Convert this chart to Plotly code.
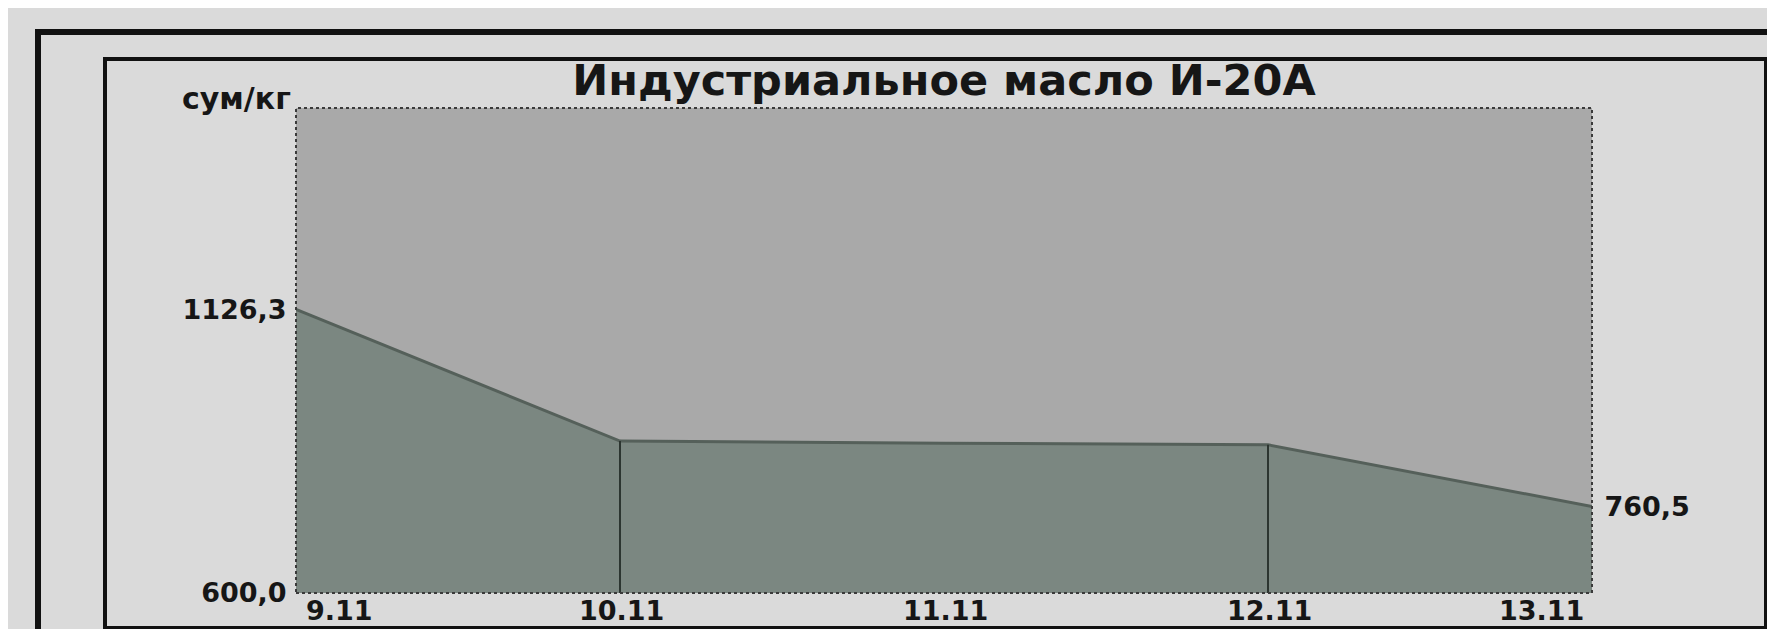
import plotly.graph_objects as go

# ---- data ----
dates = ["9.11", "10.11", "11.11", "12.11", "13.11"]
prices = [1126.3, 882.0, 878.0, 875.0, 760.5]
separator_dates = ["10.11", "12.11"]
y_min = 600.0
y_max = 1500.0
title_text = "Индустриальное масло И-20А"
unit_text = "сум/кг"

# ---- layout constants (pixels) ----
W, H = 1775, 629
PL, PR, PT, PB = 288, 1584, 100, 585
pw, ph = PR - PL, PB - PT


def px(x):
    return (x - PL) / pw


def py(y):
    return (PB - y) / ph


FONT = "DejaVu Sans"
TXT = "#161616"
TICK_SIZE = 27

fig = go.Figure()

# area
fig.add_trace(go.Scatter(
    x=dates, y=prices, mode="lines", fill="tozeroy",
    fillcolor="#7b8781", line=dict(color="#55605a", width=3),
    hoverinfo="skip", showlegend=False,
))

# vertical separators inside the area
for d in separator_dates:
    v = prices[dates.index(d)]
    fig.add_trace(go.Scatter(
        x=[d, d], y=[y_min, v], mode="lines",
        line=dict(color="#2c3530", width=2),
        hoverinfo="skip", showlegend=False,
    ))

# right-axis helper trace (invisible) so yaxis2 renders
fig.add_trace(go.Scatter(
    x=[dates[-1]], y=[prices[-1]], yaxis="y2", mode="markers",
    marker=dict(opacity=0), hoverinfo="skip", showlegend=False,
))


def fmt(v):
    return f"{v:.1f}".replace(".", ",")


fig.update_layout(
    width=W, height=H,
    margin=dict(l=PL, r=W - PR, t=PT, b=H - PB),
    paper_bgcolor="#dadada",
    plot_bgcolor="#a9a9a9",
    showlegend=False,
    title=dict(
        text=title_text, x=px((PL + PR) / 2), xref="paper",
        y=1 - 72 / H, yref="container", xanchor="center", yanchor="middle",
        font=dict(family=FONT, size=43, color=TXT, weight="bold"),
    ),
    xaxis=dict(
        type="category", categoryorder="array", categoryarray=dates,
        range=[0, len(dates) - 1], showgrid=False, zeroline=False,
        showticklabels=False, showline=False, ticks="",
    ),
    yaxis=dict(
        range=[y_min, y_max], showgrid=False, zeroline=False, showline=False,
        tickvals=[y_min, prices[0]], ticktext=[fmt(y_min), fmt(prices[0])],
        ticks="outside", ticklen=3, tickcolor="rgba(0,0,0,0)",
        tickfont=dict(family=FONT, size=TICK_SIZE, color=TXT, weight="bold"),
    ),
    yaxis2=dict(
        range=[y_min, y_max], overlaying="y", side="right", showgrid=False,
        zeroline=False, showline=False,
        tickvals=[prices[-1]], ticktext=[fmt(prices[-1])],
        ticks="outside", ticklen=6, tickcolor="rgba(0,0,0,0)",
        tickfont=dict(family=FONT, size=TICK_SIZE, color=TXT, weight="bold"),
    ),
)

# x tick labels as annotations (first left-aligned, last right-aligned);
# positioned by category index
for i, d in enumerate(dates):
    if i == 0:
        anchor, shift = "left", 8
    elif i == len(dates) - 1:
        anchor, shift = "right", -6
    else:
        anchor, shift = "center", 1
    fig.add_annotation(
        x=i, xref="x", y=py(602), yref="paper", text=d, showarrow=False,
        xanchor=anchor, yanchor="middle", xshift=shift,
        font=dict(family=FONT, size=TICK_SIZE, color=TXT, weight="bold"),
    )

# unit label
fig.add_annotation(
    x=px(285), xref="paper", y=py(90), yref="paper", text=unit_text,
    showarrow=False, xanchor="right", yanchor="middle",
    font=dict(family=FONT, size=30, color=TXT, weight="bold"),
)

# plot border (dotted)
fig.add_shape(type="rect", xref="paper", yref="paper", x0=0, x1=1, y0=0, y1=1,
              line=dict(color="#3a3a3a", width=2, dash="dot"), layer="above")

# inner frame
fig.add_shape(type="rect", xref="paper", yref="paper",
              x0=px(97), x1=px(1758), y0=py(620), y1=py(51),
              line=dict(color="#111111", width=4), layer="above")
# outer frame
fig.add_shape(type="rect", xref="paper", yref="paper",
              x0=px(30), x1=px(1800), y0=py(627), y1=py(24),
              line=dict(color="#111111", width=6), layer="above")

fig.write_html("out.html")
